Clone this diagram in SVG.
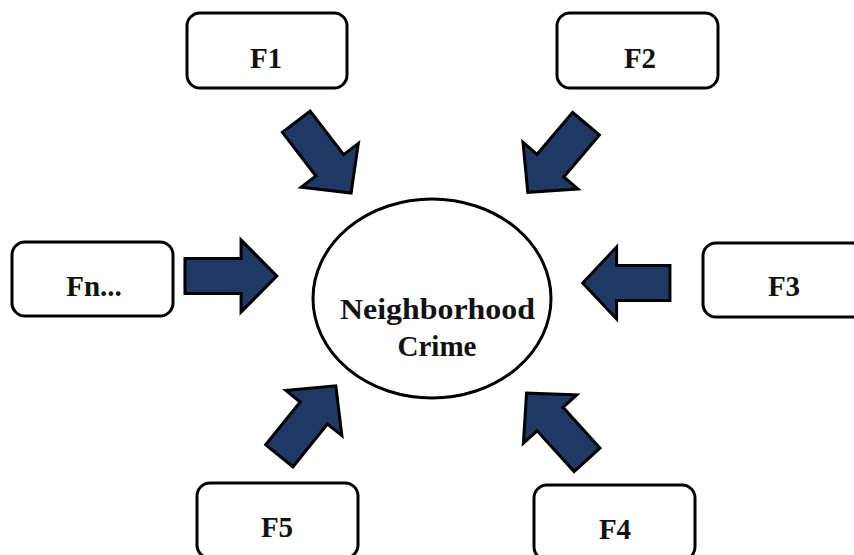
<svg xmlns="http://www.w3.org/2000/svg" width="854" height="555" viewBox="0 0 854 555">
<style>
.box{fill:#fff;stroke:#000;stroke-width:3}
.lbl{font-family:"Liberation Serif","Times New Roman",serif;font-weight:bold;font-size:29px;fill:#111;text-anchor:middle}
.arr{fill:#1F3864;stroke:#000;stroke-width:3;stroke-linejoin:miter}
</style>
<defs>
<path id="arrow" d="M0,-17.5 H55 V-36 L90,0 L55,36 V17.5 H0 Z"/>
</defs>
<rect width="854" height="555" fill="#fff"/>
<g id="connectors">
<use href="#arrow" class="arr" transform="translate(296.3,121.7) rotate(52.5)"/>
<use href="#arrow" class="arr" transform="translate(586,123.7) rotate(130.3)"/>
<use href="#arrow" class="arr" transform="translate(185,276) scale(1.02,1)"/>
<use href="#arrow" class="arr" transform="translate(670,283) rotate(180) scale(0.97,1)"/>
<use href="#arrow" class="arr" transform="translate(279.3,455.8) rotate(-51.1)"/>
<use href="#arrow" class="arr" transform="translate(587,459.8) rotate(-132.2)"/>
</g>
<g id="center">
<ellipse cx="432" cy="298.5" rx="119" ry="99.5" class="box"/>
<text class="lbl" x="437.5" y="318.5" textLength="195" lengthAdjust="spacingAndGlyphs">Neighborhood</text>
<text class="lbl" x="437" y="355.5">Crime</text>
</g>
<g id="F1">
<rect class="box" x="187" y="13" width="160" height="75" rx="13"/>
<text class="lbl" x="266" y="68">F1</text>
</g>
<g id="F2">
<rect class="box" x="557" y="13" width="161" height="75" rx="13"/>
<text class="lbl" x="640" y="68">F2</text>
</g>
<g id="Fn">
<rect class="box" x="12" y="242" width="161" height="74" rx="13"/>
<text class="lbl" x="94" y="296">Fn...</text>
</g>
<g id="F3">
<rect class="box" x="703" y="243" width="162" height="74" rx="13"/>
<text class="lbl" x="784" y="296">F3</text>
</g>
<g id="F5">
<rect class="box" x="197" y="483" width="161" height="75" rx="13"/>
<text class="lbl" x="277" y="537">F5</text>
</g>
<g id="F4">
<rect class="box" x="534" y="485" width="161" height="75" rx="13"/>
<text class="lbl" x="615" y="539">F4</text>
</g>
</svg>
